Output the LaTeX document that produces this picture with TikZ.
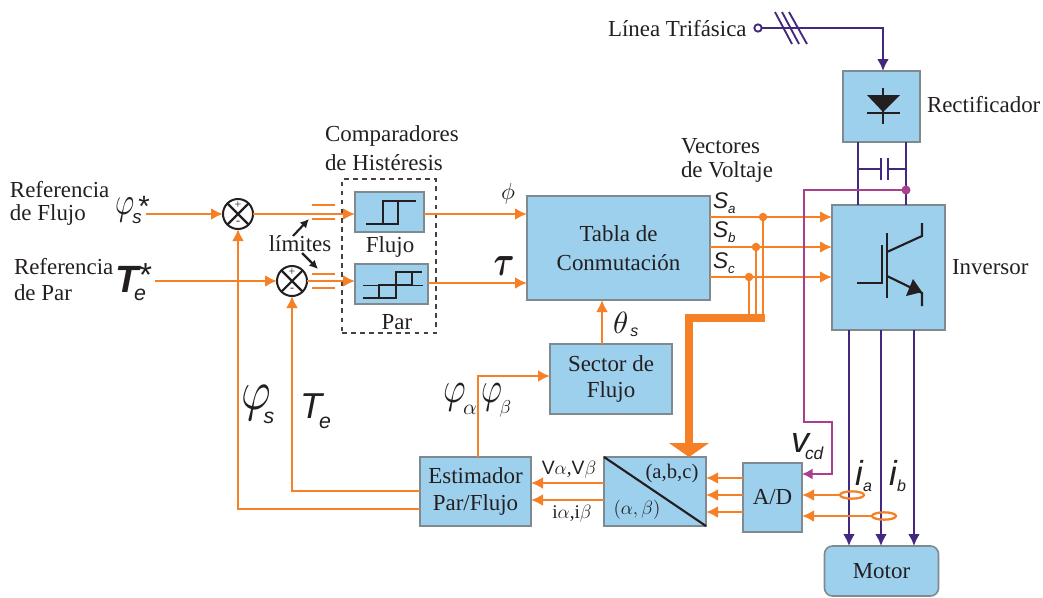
\documentclass[tikz,border=0pt]{standalone}
\usepackage{graphicx}
\usepackage{fontspec}
\setmainfont{Liberation Serif}
\setsansfont{Liberation Sans}
\usetikzlibrary{arrows.meta,calc,shapes.geometric}
\definecolor{blkfill}{HTML}{9DD0EC}
\definecolor{blkedge}{HTML}{7F8A90}
\definecolor{org}{HTML}{F58025}
\definecolor{pur}{HTML}{44287F}
\definecolor{mag}{HTML}{A9408F}
\definecolor{ink}{HTML}{231F20}
\newcommand\blk[6]{\node[blkbox,minimum width=\fpeval{(#4-#2)*0.75}pt,minimum height=\fpeval{(#5-#3)*0.75}pt] (#1) at ({(#2+#4)/2},{(#3+#5)/2}) {#6};}
\newcommand\rmsz{\fontsize{17.2}{19.8}\selectfont}
\newcommand\sfit[1]{\fontsize{#1}{#1}\selectfont\sffamily\itshape}
\newcommand\vphi[2]{\scalebox{#1}[#2]{\fontsize{10}{10}\selectfont$\varphi$}}
% \att{kern}{raise}{content}: an attachment placed relative to the start of the symbol
\newcommand\att[3]{\rlap{\kern#1pt\raisebox{#2pt}{#3}}}
\tikzset{
  blkbox/.style={draw=blkedge,fill=blkfill,line width=1.2pt,inner sep=0pt,outer sep=0pt,align=center,text=ink,font=\rmsz},
  lab/.style={inner sep=0pt,outer sep=0pt,text=ink,font=\rmsz,align=left},
  mathlab/.style={inner sep=0pt,outer sep=0pt,text=ink,anchor=base west},
  oline/.style={draw=org,line width=1.9pt},
  oarrow/.style={oline,-{Latex[length=9pt,width=9pt]}},
  pline/.style={draw=pur,line width=1.9pt},
  parrow/.style={pline,-{Latex[length=9pt,width=9pt]}},
  mline/.style={draw=mag,line width=1.7pt},
  inkline/.style={draw=ink,line width=1.6pt},
  sumnode/.style={draw=ink,fill=white,circle,line width=1.5pt,minimum size=22.5pt,inner sep=0pt,outer sep=0pt},
  sign/.style={inner sep=0pt,font=\fontsize{9}{9}\selectfont,text=ink},
  pickup/.style={draw=org,ellipse,line width=1.7pt,minimum width=18pt,minimum height=5.5pt,inner sep=0pt,outer sep=0pt},
}
\begin{document}
\begin{tikzpicture}[x=0.75pt,y=-0.75pt]
\useasboundingbox (0,0) rectangle (1043,597);

% blocks
\blk{rect}{843}{71}{920}{142}{}
\blk{inv}{832}{205}{945}{330}{}
\blk{tabla}{527}{196}{710}{300}{Tabla de\\[2pt]Conmutación}
\blk{sector}{550}{344}{672}{414}{Sector de\\Flujo}
\blk{flujo}{355}{192}{424}{232}{}
\blk{par}{355}{264}{428}{304}{}
\blk{est}{420}{457}{531}{526}{Estimador\\[1pt]Par/Flujo}
\blk{abc}{604}{457}{706}{526}{}
\blk{ad}{743}{463}{802}{532}{A/D}
\node[blkbox,rounded corners=6pt,minimum width=85.5pt,minimum height=37.5pt] (motor) at (881.5,571) {Motor};

% dashed frame
\node[draw=ink!85,dash pattern=on 3.6pt off 3.2pt,line width=0.8pt,minimum width=70.5pt,minimum height=115.5pt,inner sep=0pt,outer sep=0pt] (frame) at (389,256) {};

% summing junctions
\node[sumnode] (s1) at (238,214) {};
\node[sumnode] (s2) at (292,281) {};
\foreach \n in {s1,s2}{
  \draw[inkline] (\n.45) -- (\n.225) (\n.135) -- (\n.315);
  \node[sign] (\n p) at ($(\n)+(0,-9)$) {+};
  \node[sign] (\n m) at ($(\n)+(0,9)$) {-};
}

% coordinates
\coordinate (inS1) at (146,214);
\coordinate (inS2) at (155,281);
\coordinate (yPar) at (0,283);
\coordinate (sa) at (763,217);
\coordinate (sb) at (756,247);
\coordinate (sc) at (749,277);
\coordinate (busE) at (765,318);
\coordinate (busC) at (689,318);
\coordinate (fbA) at (238,509);
\coordinate (fbB) at (292,491);
\coordinate (estUp) at (478,376);
\coordinate (secUp) at (602,0);
\coordinate (yVa) at (0,483);
\coordinate (yIa) at (0,500);
\coordinate (ad1) at (0,478);
\coordinate (ad2) at (0,495);
\coordinate (ad3) at (0,512);
\coordinate (m1) at (849,0);
\coordinate (m2) at (881,0);
\coordinate (m3) at (914,0);

% motor feeds
\foreach \m in {m1,m2,m3}{\draw[parrow] (inv.south -| \m) -- (motor.north -| \m);}

% orange connectors
\draw[oarrow] (inS1) -- (s1.west);
\draw[oarrow] (inS2) -- (s2.west);
\draw[oarrow] (s1.east) -- (flujo.west |- s1);
\draw[oarrow] (s2.east) -- (par.west |- s2);
\draw[oarrow] (flujo.east |- s1) -- (tabla.west |- s1);
\draw[oarrow] (par.east |- yPar) -- (tabla.west |- yPar);
\draw[oarrow] (fbA -| est.west) -- (fbA) -- (s1.south);
\draw[oarrow] (fbB -| est.west) -- (fbB) -- (s2.south);
\draw[oarrow] (est.north -| estUp) -- (estUp) -- (sector.west |- estUp);
\draw[oarrow] (sector.north -| secUp) -- (tabla.south -| secUp);
\foreach \s in {sa,sb,sc}{
  \draw[oarrow] (tabla.east |- \s) -- (inv.west |- \s);
  \draw[oline] (\s) -- (\s |- busE);
  \fill[org] (\s) circle (3.2pt);
}
\draw[org,line width=5.5pt,line cap=butt,line join=miter] (busE) -- (busC) -- ($(abc.north -| busC)+(0,-9)$);
\fill[org] ($(abc.north -| busC)+(-20,-14)$) -- ($(abc.north -| busC)+(20,-14)$) -- (abc.north -| busC) -- cycle;
\draw[oarrow] (abc.west |- yVa) -- (est.east |- yVa);
\draw[oarrow] (abc.west |- yIa) -- (est.east |- yIa);
\foreach \a in {ad1,ad2,ad3}{\draw[oarrow] (ad.west |- \a) -- (abc.east |- \a);}
\node[pickup] (ia) at (852,495) {};
\node[pickup] (ib) at (884,516) {};
\draw[oarrow] (ia.west) -- (ad.east |- ia);
\draw[oarrow] (ib.west) -- (ad.east |- ib);

% limit bars
\coordinate (bl1) at (312,205); \coordinate (br1) at (335,205);
\coordinate (bl2) at (312,219); \coordinate (br2) at (335,219);
\coordinate (bl3) at (312,274); \coordinate (br3) at (335,274);
\coordinate (bl4) at (312,288); \coordinate (br4) at (335,288);
\foreach \i in {1,2,3,4}{\draw[oline] (bl\i) -- (br\i);}

% límites
\node[lab,anchor=center] (lim) at (300,244) {límites};
\coordinate (lt1) at (293,236); \coordinate (lh1) at (309,219);
\coordinate (lt2) at (302,253); \coordinate (lh2) at (318,269);
\draw[inkline,-{Latex[length=6.5pt,width=6.5pt]}] (lt1) -- (lh1);
\draw[inkline,-{Latex[length=6.5pt,width=6.5pt]}] (lt2) -- (lh2);

% hysteresis icons
\draw[inkline,line width=1.8pt] (366,224) -- (398,224) -- (398,201) -- (416,201);
\draw[inkline,line width=1.8pt] (383,224) -- (383,201) -- (398,201);
\draw[draw=ink,line width=0.7pt] (363,285) -- (423,285);
\draw[inkline,line width=1.8pt] (363,298) -- (396,298) -- (396,272) -- (422,272);
\draw[inkline,line width=1.8pt] (379,298) -- (379,285) -- (412,285) -- (412,272);

% three-phase input
\node[draw=pur,circle,line width=1.4pt,minimum size=5.5pt,inner sep=0pt,outer sep=0pt,fill=white] (src) at (758,28) {};
\coordinate (corner) at (883,28);
\draw[parrow] (src.east) -- (corner) -- (rect.north -| corner);
\coordinate (h1a) at (775,12); \coordinate (h1b) at (792,44);
\coordinate (h2a) at (782,12); \coordinate (h2b) at (799,44);
\coordinate (h3a) at (789,12); \coordinate (h3b) at (807,44);
\foreach \i in {1,2,3}{\draw[pline,line width=1.4pt] (h\i a) -- (h\i b);}

% diode
\draw[inkline] (883,88) -- (883,124);
\draw[inkline] (867,113) -- (900,113);
\fill[ink] (867,95) -- (900,95) -- (883,112) -- cycle;

% dc link
\coordinate (busL) at (858,0);
\coordinate (busR) at (906,0);
\draw[pline] (rect.south -| busL) -- (inv.north -| busL);
\draw[pline] (rect.south -| busR) -- (inv.north -| busR);
\coordinate (capL) at (881,169); \coordinate (capR) at (888,169);
\draw[pline] (busL |- capL) -- (capL);
\draw[pline] (capR) -- (busR |- capR);
\draw[pline] (881,158) -- (881,180);
\draw[pline] (888,158) -- (888,180);

% magenta sense
\coordinate (vd) at (906,190);
\draw[mline,-{Latex[length=8pt,width=8.5pt]}] (vd) -- (804,190) -- (804,422) -- (832,422) -- (832,474) -- (ad.east |- 0,474);
\fill[mag] (vd) circle (3.4pt);

% IGBT
\draw[inkline] (857,283) -- (882,283) -- (882,245);
\draw[inkline] (887,233) -- (887,298);
\draw[inkline] (887,252) -- (922,236) -- (922,223);
\draw[inkline] (887,276) -- (922,293) -- (922,306);
\fill[ink] (913,279) -- (922,292) -- (906,296) -- cycle;

% abc diagonal and texts
\draw[draw=ink,line width=1.6pt] (abc.north west) -- (abc.south east);
\node[lab,font=\fontsize{15.5}{18}\selectfont] (tabc) at (672,474) {(a,b,c)};
\node[inner sep=0pt,text=ink,font=\fontsize{14.4}{18}\selectfont] (talb) at (637,510) {$(\alpha,\beta)$};
\node[lab,font=\fontsize{14.5}{18}\selectfont] (tva) at (569,470) {{\sffamily V}$\alpha$,{\sffamily V}$\beta$};
\node[lab,font=\fontsize{14.5}{18}\selectfont] (tia) at (572,514) {i$\alpha$,i$\beta$};

% text labels
\node[lab,anchor=west] (l1a) at (10,190) {Referencia};
\node[lab,anchor=west] (l1b) at (10,215) {de Flujo};
\node[lab,anchor=west] (l2a) at (14,267) {Referencia};
\node[lab,anchor=west] (l2b) at (14,293) {de Par};
\node[lab,anchor=west] (comp) at (325,136) {Comparadores};
\node[lab,anchor=west] (hist) at (325,163) {de Histéresis};
\node[lab] (tflu) at (390,247) {Flujo};
\node[lab] (tpar) at (397,322) {Par};
\node[lab,anchor=west] (vec) at (681,146) {Vectores};
\node[lab,anchor=west] (vol) at (681,172) {de Voltaje};
\node[lab,anchor=west] (trect) at (927,105) {Rectificador};
\node[lab,anchor=west] (tinv) at (952,267) {Inversor};
\node[lab,anchor=west] (tlin) at (608,29) {Línea Trifásica};

% symbols
\node[mathlab] (pref) at (115,214) {\att{13}{-6.75}{\sfit{14}s}\att{17.5}{-1.5}{\fontsize{22}{22}\selectfont\sffamily *}\vphi{2.2}{2.9}};
\node[mathlab] (tref) at (115,292) {\att{14.25}{-6}{\sfit{16}e}\att{18}{4.5}{\fontsize{25}{25}\selectfont\sffamily *}{\sfit{28.5}\bfseries T}};
\node[mathlab,anchor=center] (phi) at (508,194) {\scalebox{1.75}{\fontsize{10}{10}\selectfont$\phi$}};
\node[mathlab,anchor=center] (tau) at (504,266) {\scalebox{2.4}[3.2]{\fontsize{10}{10}\selectfont\boldmath$\tau$}};
\node[mathlab] (sas) at (713,208) {\att{11.25}{-3.75}{\sfit{10}a}{\sfit{17}S}};
\node[mathlab] (sbs) at (713,237.5) {\att{11.25}{-3.75}{\sfit{10}b}{\sfit{17}S}};
\node[mathlab] (scs) at (713,268) {\att{11.25}{-3.75}{\sfit{10}c}{\sfit{17}S}};
\node[mathlab] (th) at (613,333) {\att{13}{-2.5}{\sfit{12}s}\scalebox{2.3}{\fontsize{10}{10}\selectfont$\theta$}};
\node[mathlab] (pa) at (443,402) {\att{15}{-9}{\scalebox{1.6}{\fontsize{10}{10}\selectfont$\alpha$}}\vphi{2.6}{3.3}};
\node[mathlab] (pb) at (481,402) {\att{14}{-8.25}{\scalebox{1.4}{\fontsize{10}{10}\selectfont$\beta$}}\vphi{2.4}{3.3}};
\node[mathlab] (ps) at (241,409) {\att{17}{-10.5}{\sfit{16}s}\vphi{3.4}{4.2}};
\node[mathlab] (te) at (300,418) {\att{14.25}{-7.5}{\sfit{16}e}{\sfit{27}T}};
\node[mathlab] (vcd) at (791,452) {\att{10.5}{-5.25}{\sfit{13}cd}{\sfit{27}v}};
\node[mathlab] (tia2) at (855,485) {\att{6}{-4.5}{\sfit{12}a}{\sfit{26}i}};
\node[mathlab] (tib) at (889,485) {\att{6}{-4.5}{\sfit{12}b}{\sfit{26}i}};
\end{tikzpicture}
\end{document}
